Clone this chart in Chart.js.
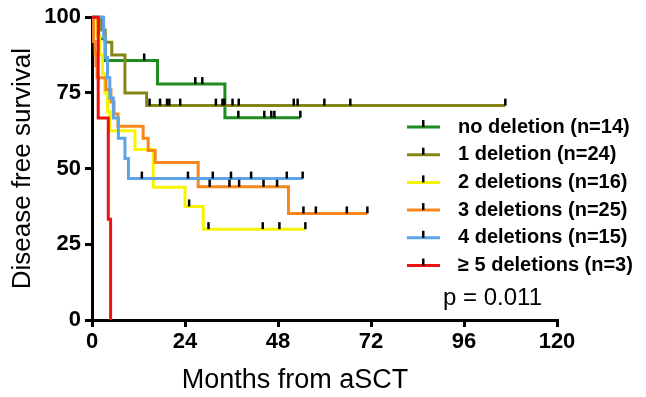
<!DOCTYPE html>
<html>
<head>
<meta charset="utf-8">
<script src="https://cdn.jsdelivr.net/npm/chart.js@4"></script>
<style>
  body { margin: 0; background: #fff; }
  #wrap { width: 646px; height: 397px; }
</style>
</head>
<body>
<div id="wrap"><canvas id="kmChart" width="646" height="397"></canvas></div>
<script>
// ===== DATA (months, survival %) =====
const groupNames = ['no deletion (n=14)', '1 deletion (n=24)', '2 deletions (n=16)',
  '3 deletions (n=25)', '4 deletions (n=15)', '\u2265 5 deletions (n=3)'];
const groupColors = ['#1e8c1e', '#858516', '#f5f500', '#f7861c', '#5ca3e8', '#ee1111'];

const greenT = [0, 1.7, 3.4, 16.9, 34.3, 53.7];
const greenS = [100, 92.9, 85.7, 77.9, 66.8, 66.8];
const greenC = [13.4, 26.6, 28.4, 37.7, 44.4, 46.2, 47.0, 53.7];

const oliveT = [0, 2.5, 3.4, 5.1, 8.5, 14.1, 106.6];
const oliveS = [100, 95.8, 91.7, 87.5, 75, 70.8, 70.8];
const oliveC = [14.8, 17.5, 19.3, 19.9, 22.7, 31.9, 33.6, 34.1, 36.2, 37.8, 52.0, 53.0, 59.9, 66.6, 106.6];

const yellowT = [0, 1.3, 2.0, 2.7, 3.3, 4.0, 4.6, 11.1, 15.8, 24.0, 28.7, 55.0];
const yellowS = [100, 93.8, 87.5, 81.3, 75, 68.8, 62.5, 56.3, 43.8, 37.5, 30, 30];
const yellowC = [25.0, 30.0, 44.0, 48.3, 55.0];

const orangeT = [0, 0.4, 0.8, 1.0, 1.3, 3.6, 4.9, 5.7, 6.7, 13.2, 14.5, 16.3, 27.4, 50.7, 71.0];
const orangeS = [100, 92, 88, 84, 80, 76, 72, 68, 64, 60, 56, 52, 44, 35.2, 35.2];
const orangeC = [30.3, 35.4, 37.9, 44.2, 47.7, 54.5, 57.7, 65.7, 71.0];

const blueT = [0, 3.0, 3.4, 4.0, 4.6, 5.5, 6.8, 8.5, 9.4, 54.3];
const blueS = [100, 93.3, 86.7, 80, 73.3, 66.7, 60, 53.3, 46.7, 46.7];
const blueC = [12.8, 24.7, 31.1, 35.8, 41.0, 50.2, 54.3];

const redT = [0, 1.6, 4.2, 4.8];
const redS = [100, 66.7, 33.3, 0];
const redC = [];

const xTicks = [0, 24, 48, 72, 96, 120];
const yTicks = [0, 25, 50, 75, 100];
const xTitle = 'Months from aSCT';
const yTitle = 'Disease free survival';
const pText = 'p = 0.011';

const groups = [
  [greenT, greenS, greenC], [oliveT, oliveS, oliveC], [yellowT, yellowS, yellowC],
  [orangeT, orangeS, orangeC], [blueT, blueS, blueC], [redT, redS, redC]
];

// survival value of a step curve at time t
function survAt(T, S, t) {
  let v = S[0];
  for (let i = 0; i < T.length; i++) if (T[i] <= t) v = S[i];
  return v;
}

Chart.defaults.font.family = '"Liberation Sans", Arial, sans-serif';
Chart.defaults.color = '#000';

// ===== censor ticks, legend, x title and p-value =====
const extras = {
  id: 'extras',
  afterDatasetsDraw(chart) {
    const ctx = chart.ctx, xs = chart.scales.x, ys = chart.scales.y;
    ctx.save();
    ctx.fillStyle = '#000';
    groups.forEach(([T, S, C]) => {
      C.forEach(t => {
        const px = xs.getPixelForValue(t), py = ys.getPixelForValue(survAt(T, S, t));
        ctx.fillRect(px - 1, py - 7, 2.5, 7);
      });
    });

    // legend
    ctx.font = 'bold 20px "Liberation Sans", Arial, sans-serif';
    ctx.textBaseline = 'middle';
    groupNames.forEach((name, i) => {
      const y = 127 + i * 27.7;
      ctx.strokeStyle = groupColors[i];
      ctx.lineWidth = 3;
      ctx.beginPath();
      ctx.moveTo(407, y);
      ctx.lineTo(440, y);
      ctx.stroke();
      ctx.fillStyle = '#000';
      ctx.fillRect(422, y - 7, 2.5, 7);
      ctx.fillText(name, 458, y);
    });

    ctx.font = '24px "Liberation Sans", Arial, sans-serif';
    ctx.fillText(pText, 443, 298);

    // x axis title sits left of the plot centre in the original
    ctx.font = '27px "Liberation Sans", Arial, sans-serif';
    ctx.textAlign = 'center';
    ctx.fillText(xTitle, 295, 381);
    ctx.restore();
  }
};

const datasets = groups.map(([T, S], i) => ({
  label: groupNames[i],
  data: T.map((t, k) => ({ x: t, y: S[k] })),
  borderColor: groupColors[i],
  borderWidth: 3,
  stepped: 'before',
  pointRadius: 0,
  fill: false,
  clip: false,
  order: 5 - i
}));

const tickFont = { size: 22, weight: 'bold' };

new Chart(document.getElementById('kmChart'), {
  type: 'line',
  data: { datasets },
  plugins: [extras],
  options: {
    responsive: false,
    animation: false,
    layout: { padding: { top: 17, right: 89, left: 0, bottom: 0 } },
    plugins: { legend: { display: false }, tooltip: { enabled: false } },
    scales: {
      x: {
        type: 'linear', min: 0, max: 120,
        afterBuildTicks: s => { s.ticks = xTicks.map(v => ({ value: v })); },
        afterFit: s => { s.height = 77; },
        ticks: { font: tickFont, padding: 2, maxRotation: 0, color: '#000' },
        grid: { drawOnChartArea: false, drawTicks: true, tickLength: 7, lineWidth: 3, color: '#000' },
        border: { display: true, color: '#000', width: 3 }
      },
      y: {
        min: 0, max: 100,
        afterBuildTicks: s => { s.ticks = yTicks.map(v => ({ value: v })); },
        afterFit: s => { s.width = 92; },
        ticks: { font: tickFont, padding: 4, color: '#000' },
        grid: { drawOnChartArea: false, drawTicks: true, tickLength: 7, lineWidth: 3, color: '#000' },
        border: { display: true, color: '#000', width: 3 },
        title: { display: true, text: yTitle, font: { size: 26 }, color: '#000', padding: { top: 7, bottom: 0 } }
      }
    }
  }
});
</script>
</body>
</html>
